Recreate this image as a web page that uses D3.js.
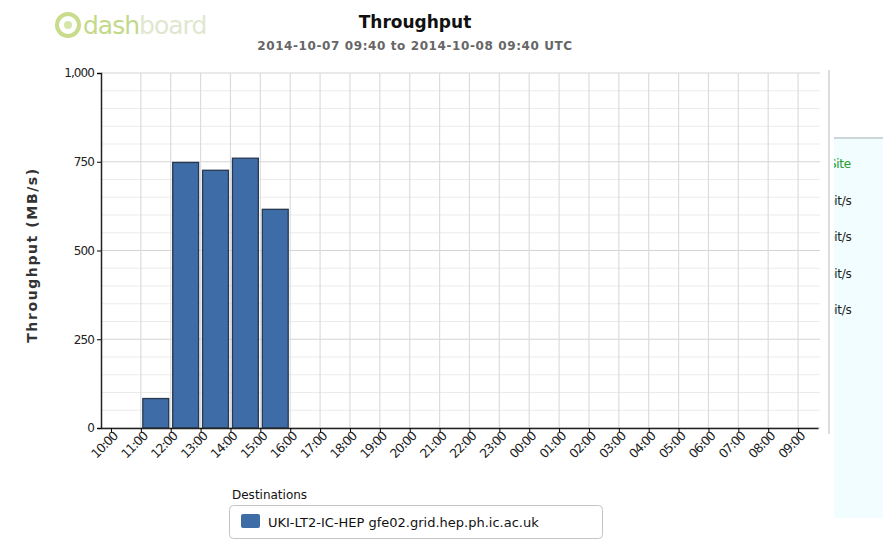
<!DOCTYPE html>
<html>
<head>
<meta charset="utf-8"/>
<title>Throughput</title>
<script src="https://d3js.org/d3.v7.min.js"></script>
<style>
  body { margin: 0; background: #fff; }
  text { font-family: "DejaVu Sans", sans-serif; }
</style>
</head>
<body>
<div id="chart"></div>
<script>
// data
var binStarts = ["2014-10-07T11:00Z", "2014-10-07T12:00Z", "2014-10-07T13:00Z", "2014-10-07T14:00Z", "2014-10-07T15:00Z"];
var throughput = [83, 748, 726, 760, 616];
var yTicks = [0, 250, 500, 750, 1000];
var seriesName = "UKI-LT2-IC-HEP gfe02.grid.hep.ph.ic.ac.uk";
var sideLabels = ["Site", "bit/s", "bit/s", "bit/s", "bit/s"];

var W = 883, H = 541;
var svg = d3.select("#chart").append("svg")
  .attr("width", W).attr("height", H);

var t0 = new Date("2014-10-07T09:40Z"), t1 = new Date("2014-10-08T09:40Z");
var x = d3.scaleUtc().domain([t0, t1]).range([101, 818]);
var y = d3.scaleLinear().domain([0, 1000]).range([428, 73]);
var hours = d3.utcHour.range(new Date("2014-10-07T10:00Z"), t1);

// logo
var logo = svg.append("g");
logo.append("circle").attr("cx", 68).attr("cy", 25).attr("r", 11)
  .attr("fill", "none").attr("stroke", "#c8dc8c").attr("stroke-width", 4);
logo.append("circle").attr("cx", 68).attr("cy", 25).attr("r", 4)
  .attr("fill", "#d6e6a6");
logo.append("text").attr("x", 83).attr("y", 34)
  .style("font-size", "25px").style("letter-spacing", "-1px")
  .attr("fill", "#c3d98a").text("dash")
  .append("tspan").attr("fill", "#dfe7cf").text("board");

// titles
svg.append("text").attr("x", 415).attr("y", 28).attr("text-anchor", "middle")
  .style("font-size", "17px").style("font-weight", "bold").attr("fill", "#111")
  .text("Throughput");
svg.append("text").attr("x", 415).attr("y", 50).attr("text-anchor", "middle")
  .style("font-size", "12px").style("font-weight", "bold").style("letter-spacing", "0.6px")
  .attr("fill", "#666").text("2014-10-07 09:40 to 2014-10-08 09:40 UTC");

// side panel (cut off on the right)
svg.append("defs").append("clipPath").attr("id", "sideclip")
  .append("rect").attr("x", 834).attr("y", 130).attr("width", 60).attr("height", 400);
svg.append("rect").attr("x", 834).attr("y", 138).attr("width", 60).attr("height", 380)
  .attr("fill", "#f1fdfe");
svg.append("line").attr("x1", 834).attr("x2", 883).attr("y1", 138).attr("y2", 138)
  .attr("stroke", "#ccd6d8").attr("stroke-width", 2);
svg.append("g").attr("clip-path", "url(#sideclip)")
  .selectAll("text").data(sideLabels).join("text")
  .attr("x", function(d, i) { return i == 0 ? 829 : 827; })
  .attr("y", function(d, i) { return 168 + i * 36.5; })
  .style("font-size", "12px").style("letter-spacing", "-0.3px")
  .attr("fill", function(d, i) { return i == 0 ? "#2a9a2a" : "#222"; })
  .text(function(d) { return d; });

// grid
var grid = svg.append("g");
grid.selectAll(".hg").data(d3.range(0, 1001, 50)).join("line")
  .attr("x1", 101).attr("x2", 820)
  .attr("y1", function(d) { return y(d); }).attr("y2", function(d) { return y(d); })
  .attr("stroke", function(d) { return d % 250 == 0 ? "#d4d4d4" : "#ebebeb"; })
  .attr("stroke-width", 1.2);
grid.selectAll(".vg").data(hours.slice(1)).join("line")
  .attr("x1", function(d) { return x(d); }).attr("x2", function(d) { return x(d); })
  .attr("y1", 73).attr("y2", 428)
  .attr("stroke", "#dcdcdc").attr("stroke-width", 1.2);
svg.append("line").attr("x1", 829).attr("x2", 829).attr("y1", 70).attr("y2", 434)
  .attr("stroke", "#d0d0d0").attr("stroke-width", 1.5);

// bars
svg.append("g").selectAll("rect").data(binStarts).join("rect")
  .attr("x", function(d) { return x(new Date(d)) + 2; })
  .attr("width", function(d) { var s = new Date(d); return x(d3.utcHour.offset(s, 1)) - x(s) - 4; })
  .attr("y", function(d, i) { return y(throughput[i]); })
  .attr("height", function(d, i) { return y(0) - y(throughput[i]); })
  .attr("fill", "#3e6ca6").attr("stroke", "#27384f").attr("stroke-width", 1.3);

// axes
var yAxis = svg.append("g").attr("transform", "translate(101,0)")
  .call(d3.axisLeft(y).tickValues(yTicks).tickFormat(d3.format(",")).tickSize(4).tickPadding(3));
yAxis.select(".domain").attr("stroke", "#222").attr("stroke-width", 1.5);
yAxis.selectAll("text").style("font-size", "12px").style("letter-spacing", "-0.9px").attr("fill", "#222");

var xAxis = svg.append("g").attr("transform", "translate(0,428)")
  .call(d3.axisBottom(x).tickValues(hours).tickFormat(d3.utcFormat("%H:%M")).tickSize(4).tickSizeOuter(0));
xAxis.select(".domain").attr("stroke", "#222").attr("stroke-width", 1.5);
xAxis.selectAll("text")
  .style("font-size", "12.5px").style("letter-spacing", "-1px").attr("fill", "#222")
  .attr("text-anchor", "end").attr("dy", null).attr("y", 0)
  .attr("transform", "translate(7,9) rotate(-45)");

// y label
svg.append("text").attr("transform", "translate(37,255) rotate(-90)")
  .attr("text-anchor", "middle")
  .style("font-size", "14px").style("font-weight", "bold").style("letter-spacing", "1.6px")
  .attr("fill", "#333").text("Throughput (MB/s)");

// legend
svg.append("text").attr("x", 232).attr("y", 499)
  .style("font-size", "12px").attr("fill", "#111").text("Destinations");
svg.append("rect").attr("x", 229.5).attr("y", 505.5).attr("width", 373).attr("height", 33)
  .attr("rx", 4).attr("fill", "#fff").attr("stroke", "#c4c4c4");
svg.append("rect").attr("x", 241).attr("y", 514).attr("width", 19).attr("height", 14)
  .attr("rx", 2).attr("fill", "#3e6ca6");
svg.append("text").attr("x", 268).attr("y", 527)
  .style("font-size", "13px").attr("fill", "#111").text(seriesName);
</script>
</body>
</html>
